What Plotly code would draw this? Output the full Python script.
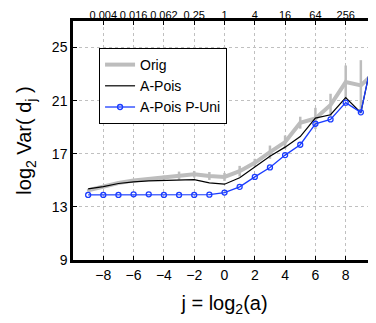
import plotly.graph_objects as go

j = list(range(-9, 11))
orig = [14.25, 14.55, 14.8, 14.98, 15.1, 15.2, 15.36, 15.46, 15.33, 15.26, 15.69, 16.32, 17.12, 17.88, 19.34, 19.66, 20.67, 22.4, 22.15, 23.23]
orig_err = [0.1, 0.1, 0.1, 0.1, 0.1, 0.15, 0.3, 0.25, 0.3, 0.3, 0.4, 0.3, 0.5, 0.5, 0.45, 0.8, 0.85, 1.25, 1.9, 0.0]
apois = [14.36, 14.53, 14.76, 14.89, 14.96, 14.98, 15.04, 15.06, 14.81, 14.71, 15.19, 16.02, 16.82, 17.5, 18.3, 19.69, 19.94, 21.23, 20.09, 25.5]
apois_puni = [13.9, 13.9, 13.9, 13.95, 13.95, 13.9, 13.9, 13.9, 13.92, 14.08, 14.51, 15.26, 15.97, 16.9, 17.68, 19.26, 19.59, 20.85, 20.12, 25.5]

tick_vals = [-8, -6, -4, -2, 0, 2, 4, 6, 8]
top_labels = ["0.004", "0.016", "0.062", "0.25", "1", "4", "16", "64", "256"]
y_ticks = [9, 13, 17, 21, 25]

fig = go.Figure()
fig.add_trace(go.Scatter(
    x=j, y=orig, mode="lines", name="Orig",
    line=dict(color="#bdbdbd", width=4),
    error_y=dict(type="data", array=orig_err, color="#bdbdbd", thickness=2.5, width=0),
))
fig.add_trace(go.Scatter(
    x=j, y=apois, mode="lines", name="A-Pois",
    line=dict(color="black", width=1.2),
))
fig.add_trace(go.Scatter(
    x=j, y=apois_puni, mode="lines+markers", name="A-Pois P-Uni",
    line=dict(color="#1a3cff", width=1.3),
    marker=dict(symbol="circle-open", size=5, color="#1a3cff", line=dict(width=1.3)),
))
# dummy trace for top axis
fig.add_trace(go.Scatter(x=[-10, 10], y=[9, 9], xaxis="x2", mode="lines",
                         line=dict(width=0), showlegend=False, hoverinfo="skip"))

font_family = "Liberation Sans, Arial, sans-serif"
fig.update_layout(
    width=368, height=315,
    margin=dict(l=65, r=0, t=13, b=63, autoexpand=False),
    paper_bgcolor="white", plot_bgcolor="white",
    font=dict(family=font_family, size=13, color="black"),
    showlegend=True,
    legend=dict(
        x=0.086, y=0.887, xanchor="left", yanchor="top",
        bgcolor="white", bordercolor="black", borderwidth=1,
        font=dict(size=14), tracegroupgap=0, itemwidth=30,
    ),
    xaxis=dict(
        range=[-10, 10], tickvals=tick_vals,
        ticktext=["\u22128", "\u22126", "\u22124", "\u22122", "0", "2", "4", "6", "8"],
        showgrid=True, gridcolor="#c0c0c0", griddash="dot", gridwidth=1,
        showline=True, linecolor="black", linewidth=2.5, automargin=False,
        ticks="inside", ticklen=4, tickcolor="black", zeroline=False, tickangle=0,
        tickfont=dict(size=14),
        title=dict(text="j = log<sub>2</sub>(a)", font=dict(size=20)),
    ),
    xaxis2=dict(
        range=[-10, 10], tickvals=tick_vals, ticktext=top_labels,
        overlaying="x", side="top", showgrid=False, automargin=False,
        showline=True, linecolor="black", linewidth=2.5, tickangle=0,
        ticks="inside", ticklen=4, tickcolor="black", zeroline=False,
        tickfont=dict(size=11), ticklabelstandoff=-5,
    ),
    yaxis=dict(
        range=[9, 27], tickvals=y_ticks, automargin=False,
        showgrid=True, gridcolor="#c0c0c0", griddash="dot", gridwidth=1,
        showline=True, linecolor="black", linewidth=2.5,
        ticks="inside", ticklen=4, tickcolor="black", zeroline=False,
        tickfont=dict(size=14),
        title=dict(text="log<sub>2</sub> Var( d<sub>j</sub> )", font=dict(size=20)),
    ),
)

fig.write_html("out.html")
